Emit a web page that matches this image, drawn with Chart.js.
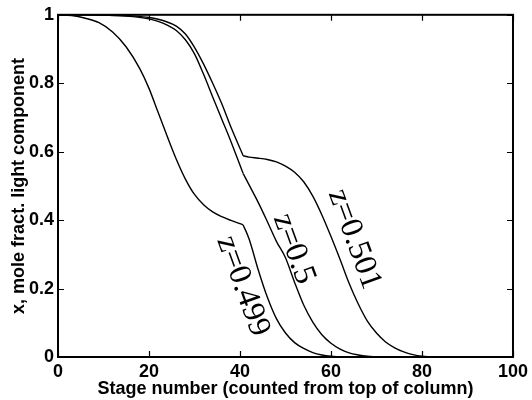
<!DOCTYPE html>
<html>
<head>
<meta charset="utf-8">
<script src="https://cdn.jsdelivr.net/npm/chart.js@4/dist/chart.umd.min.js"></script>
<style>
  html, body { margin: 0; padding: 0; background: #fff; }
  #wrap { width: 532px; height: 400px; }
</style>
</head>
<body>
<div id="wrap"><canvas id="c" width="532" height="400"></canvas></div>
<script>
// Axis ticks
const xTicks = [0, 20, 40, 60, 80, 100];
const xTickLabels = ['0', '20', '40', '60', '80', '100'];
const yTicks = [0, 0.2, 0.4, 0.6, 0.8, 1];
const yTickLabels = ['0', '0.2', '0.4', '0.6', '0.8', '1'];

// Feed stage where every profile has its corner
const feedStage = 40.7;

// Liquid composition profiles, z = 0.499
const stagesA = [0, 3, 6, 9, 12, 15, 18, 20, 22, 24, 26, 28, 30, 32, 34, 36, 38, 40.7,
                 42, 44, 46, 48, 50, 52, 54, 56, 58, 60, 62];
const valuesA = [1, 0.998, 0.99, 0.977, 0.95, 0.906, 0.842, 0.785, 0.715, 0.645, 0.578, 0.52, 0.475, 0.445, 0.424, 0.41, 0.399, 0.386,
                 0.345, 0.255, 0.175, 0.112, 0.07, 0.042, 0.025, 0.013, 0.006, 0.002, 0];

// z = 0.5
const stagesB = [0, 5, 10, 14, 17, 20, 22, 24, 26, 28, 30, 32, 34, 36, 38, 40.7,
                 42, 44, 46, 48, 50, 52, 54, 56, 58, 60, 62, 64, 66, 68, 70];
const valuesB = [1, 1, 0.999, 0.997, 0.994, 0.988, 0.981, 0.97, 0.954, 0.927, 0.886, 0.826, 0.76, 0.695, 0.63, 0.536,
                 0.503, 0.452, 0.396, 0.338, 0.29, 0.218, 0.152, 0.102, 0.065, 0.04, 0.023, 0.012, 0.006, 0.002, 0];

// z = 0.501
const stagesC = [0, 5, 10, 14, 17, 20, 22, 24, 26, 28, 30, 32, 34, 36, 38, 40.7,
                 42, 44, 46, 48, 50, 52, 54, 56, 58, 60, 62, 64, 66, 68, 70, 72, 74, 76, 78, 80, 82];
const valuesC = [1, 1, 0.999, 0.998, 0.996, 0.992, 0.987, 0.979, 0.967, 0.944, 0.905, 0.856, 0.8, 0.74, 0.672, 0.588,
                 0.584, 0.581, 0.577, 0.57, 0.558, 0.54, 0.512, 0.47, 0.415, 0.352, 0.285, 0.215, 0.155, 0.105, 0.07, 0.044, 0.027, 0.015, 0.007, 0.002, 0];

// Curve labels (text, and the stage / composition at the text centre)
const labelTexts = ['z=0.499', 'z=0.5', 'z=0.501'];
const labelStages = [40.6, 51.8, 65.1];
const labelLevels = [0.207, 0.316, 0.344];

// Each profile is drawn as two smooth pieces meeting at the feed stage,
// so the corner there stays sharp.
function pieces(stages, values) {
  const k = stages.indexOf(feedStage);
  const pts = stages.map((s, i) => ({ x: s, y: values[i] }));
  const base = {
    borderColor: '#000', borderWidth: 1.4, pointRadius: 0,
    cubicInterpolationMode: 'monotone', fill: false
  };
  return [
    Object.assign({ data: pts.slice(0, k + 1) }, base),
    Object.assign({ data: pts.slice(k) }, base)
  ];
}

const datasets = [].concat(
  pieces(stagesA, valuesA),
  pieces(stagesB, valuesB),
  pieces(stagesC, valuesC)
);

const SANS = "'Liberation Sans', Arial, Helvetica, sans-serif";
const SERIF = "'Liberation Serif', 'Times New Roman', serif";
const TICK_LEN = 6;

// Box frame with inward ticks on all four sides
const framePlugin = {
  id: 'frame',
  afterDatasetsDraw(chart) {
    const { ctx, chartArea: a, scales: { x, y } } = chart;
    ctx.save();
    ctx.strokeStyle = '#000';
    ctx.lineWidth = 1.2;
    ctx.beginPath();
    xTicks.forEach(v => {
      const px = Math.round(x.getPixelForValue(v)) + 0.5;
      ctx.moveTo(px, a.bottom); ctx.lineTo(px, a.bottom - TICK_LEN);
      ctx.moveTo(px, a.top); ctx.lineTo(px, a.top + TICK_LEN);
    });
    yTicks.forEach(v => {
      const py = Math.round(y.getPixelForValue(v)) + 0.5;
      ctx.moveTo(a.left, py); ctx.lineTo(a.left + TICK_LEN, py);
      ctx.moveTo(a.right, py); ctx.lineTo(a.right - TICK_LEN, py);
    });
    ctx.stroke();
    ctx.lineWidth = 2;
    ctx.strokeRect(a.left, a.top, a.right - a.left, a.bottom - a.top);
    ctx.restore();
  }
};

// Rotated labels beside each profile
const curveLabelPlugin = {
  id: 'curveLabels',
  afterDatasetsDraw(chart) {
    const { ctx, scales: { x, y } } = chart;
    ctx.save();
    ctx.fillStyle = '#000';
    ctx.font = '32px ' + SERIF;
    ctx.textAlign = 'center';
    ctx.textBaseline = 'middle';
    labelTexts.forEach((t, i) => {
      ctx.save();
      ctx.translate(x.getPixelForValue(labelStages[i]), y.getPixelForValue(labelLevels[i]));
      ctx.rotate(70 * Math.PI / 180);
      ctx.fillText(t, 0, 0);
      ctx.restore();
    });
    ctx.restore();
  }
};

const boldFont = { family: SANS, size: 18, weight: 700 };

new Chart(document.getElementById('c'), {
  type: 'line',
  data: { datasets },
  plugins: [framePlugin, curveLabelPlugin],
  options: {
    responsive: false,
    animation: false,
    devicePixelRatio: 1,
    layout: { padding: { left: 0, right: 17, top: 14, bottom: 0 } },
    plugins: { legend: { display: false }, tooltip: { enabled: false } },
    scales: {
      x: {
        type: 'linear', min: 0, max: 100,
        grid: { display: false, drawTicks: false },
        border: { display: false },
        afterBuildTicks: s => { s.ticks = xTicks.map(v => ({ value: v })); },
        afterFit: s => { s.height = 43; },
        ticks: {
          color: '#000', padding: 4, maxRotation: 0, autoSkip: false,
          font: boldFont,
          callback: (v, i) => xTickLabels[i]
        },
        title: {
          display: true, text: 'Stage number (counted from top of column)', color: '#000',
          font: boldFont,
          padding: { top: 0, bottom: 0 }
        }
      },
      y: {
        type: 'linear', min: 0, max: 1,
        grid: { display: false, drawTicks: false },
        border: { display: false },
        afterBuildTicks: s => { s.ticks = yTicks.map(v => ({ value: v })); },
        afterFit: s => { s.width = 58; },
        ticks: {
          color: '#000', padding: 4, autoSkip: false,
          font: boldFont,
          callback: (v, i) => yTickLabels[i]
        },
        title: {
          display: true, text: 'x, mole fract. light component', color: '#000',
          font: boldFont,
          padding: { top: 8, bottom: 0 }
        }
      }
    }
  }
});
</script>
</body>
</html>
